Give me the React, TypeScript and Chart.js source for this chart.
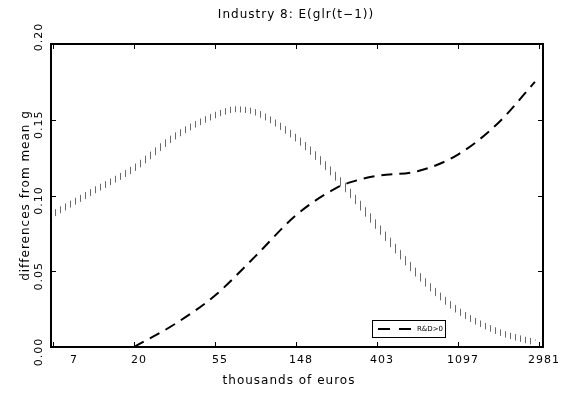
import React, { useEffect, useRef } from "react";
import { Chart, registerables } from "chart.js";

Chart.register(...registerables);

// x values are ln(thousands of euros)
const dottedLnSize = [1.975, 2.5, 3.0, 3.5, 4.0, 4.25, 4.5, 5.0, 5.5, 6.0, 6.5, 7.0, 7.5, 7.95];
const dottedValues = [0.087, 0.103, 0.118, 0.139, 0.153, 0.157, 0.155, 0.138, 0.112, 0.080, 0.048, 0.024, 0.010, 0.003];

const dashedLnSize = [3.0, 3.5, 4.0, 4.5, 5.0, 5.5, 5.75, 6.0, 6.5, 7.0, 7.5, 7.95];
const dashedValues = [0.0, 0.015, 0.034, 0.060, 0.087, 0.105, 0.110, 0.113, 0.116, 0.127, 0.148, 0.175];

const xTickValues = [2, 3, 4, 5, 6, 7, 8];
const xTickLabels = ["7", "20", "55", "148", "403", "1097", "2981"];
const yTickValues = [0, 0.05, 0.1, 0.15, 0.2];
const yTickLabels = ["0.00", "0.05", "0.10", "0.15", "0.20"];

const titleText = "Industry 8: E(glr(t\u22121))";
const xTitle = "thousands of euros";
const yTitle = "differences from mean g";
const legendLabel = "R&D>0";

const FONT = "'DejaVu Sans', 'Liberation Sans', sans-serif";

export default function App() {
  const ref = useRef<HTMLCanvasElement | null>(null);

  useEffect(() => {
    const canvas = ref.current;
    if (!canvas) return;

    const pc = document.createElement("canvas");
    pc.width = 5;
    pc.height = 1;
    const pctx = pc.getContext("2d")!;
    pctx.fillStyle = "#6a6a6a";
    pctx.fillRect(0, 0, 1, 1);
    const ctx0 = canvas.getContext("2d")!;
    const pattern = ctx0.createPattern(pc, "repeat");

    const decor = {
      id: "decor",
      afterDraw(chart: any) {
        const ctx = chart.ctx as CanvasRenderingContext2D;
        const a = chart.chartArea;
        const xs = chart.scales.x;
        const ys = chart.scales.y;
        ctx.save();
        // frame
        ctx.strokeStyle = "#000";
        ctx.lineWidth = 2;
        ctx.strokeRect(a.left, a.top, a.right - a.left, a.bottom - a.top);
        // ticks (inward)
        ctx.lineWidth = 1;
        const tl = 5;
        ctx.beginPath();
        xTickValues.forEach((v) => {
          const px = Math.round(xs.getPixelForValue(v)) + 0.5;
          if (px > a.left + 2 && px < a.right - 2) {
            ctx.moveTo(px, a.bottom);
            ctx.lineTo(px, a.bottom - tl);
            ctx.moveTo(px, a.top);
            ctx.lineTo(px, a.top + tl);
          }
        });
        yTickValues.forEach((v) => {
          const py = Math.round(ys.getPixelForValue(v)) + 0.5;
          if (py > a.top + 2 && py < a.bottom - 2) {
            ctx.moveTo(a.left, py);
            ctx.lineTo(a.left + tl, py);
            ctx.moveTo(a.right, py);
            ctx.lineTo(a.right - tl, py);
          }
        });
        ctx.stroke();

        ctx.fillStyle = "#000";
        (ctx as any).letterSpacing = "1px";
        // x tick labels
        ctx.font = `11px ${FONT}`;
        ctx.textAlign = "center";
        ctx.textBaseline = "middle";
        xTickValues.forEach((v, i) => {
          const px = xs.getPixelForValue(v);
          const cx = Math.max(px + 5, a.left + 23);
          ctx.fillText(xTickLabels[i], cx, 360);
        });
        // y tick labels rotated
        yTickValues.forEach((v, i) => {
          const py = ys.getPixelForValue(v);
          const cy = i === yTickValues.length - 1 ? py - 7 : py + 5;
          ctx.save();
          ctx.translate(39, cy);
          ctx.rotate(-Math.PI / 2);
          ctx.fillText(yTickLabels[i], 0, 0);
          ctx.restore();
        });
        // titles
        ctx.font = `12px ${FONT}`;
        ctx.fillText(titleText, 296, 15);
        ctx.fillText(xTitle, 289, 381);
        ctx.save();
        ctx.translate(26, (a.top + a.bottom) / 2);
        ctx.rotate(-Math.PI / 2);
        ctx.fillText(yTitle, 0, 0);
        ctx.restore();

        // legend
        const lx = 372, ly = 320, lw = 73, lh = 17;
        ctx.fillStyle = "#fff";
        ctx.fillRect(lx, ly, lw, lh);
        ctx.strokeStyle = "#000";
        ctx.lineWidth = 1;
        ctx.strokeRect(lx + 0.5, ly + 0.5, lw, lh);
        ctx.lineWidth = 2;
        ctx.beginPath();
        ctx.moveTo(lx + 6, ly + 9);
        ctx.lineTo(lx + 18, ly + 9);
        ctx.moveTo(lx + 27, ly + 9);
        ctx.lineTo(lx + 39, ly + 9);
        ctx.stroke();
        ctx.fillStyle = "#000";
        (ctx as any).letterSpacing = "0px";
        ctx.font = `7px ${FONT}`;
        ctx.textAlign = "left";
        ctx.fillText(legendLabel, lx + 45, ly + 9);
        ctx.restore();
      },
    };

    const chart = new Chart(canvas, {
      type: "line",
      data: {
        datasets: [
          {
            label: "all",
            data: dottedLnSize.map((x, i) => ({ x, y: dottedValues[i] })),
            borderColor: pattern as any,
            borderWidth: 6,
            pointRadius: 0,
            cubicInterpolationMode: "monotone",
            fill: false,
          },
          {
            label: legendLabel,
            data: dashedLnSize.map((x, i) => ({ x, y: dashedValues[i] })),
            borderColor: "#000",
            borderWidth: 2,
            borderDash: [11, 7],
            pointRadius: 0,
            cubicInterpolationMode: "monotone",
            fill: false,
          },
        ],
      },
      options: {
        animation: false,
        responsive: false,
        devicePixelRatio: 1,
        layout: { padding: { left: 51, top: 44, right: 27, bottom: 47 } },
        plugins: { legend: { display: false }, tooltip: { enabled: false } },
        scales: {
          x: { type: "linear", min: 1.975, max: 8.05, display: false },
          y: { type: "linear", min: 0, max: 0.2, display: false },
        },
      },
      plugins: [decor],
    });
    return () => chart.destroy();
  }, []);

  return (
    <div style={{ position: "fixed", left: 0, top: 0, width: 570, height: 394, background: "#fff" }}>
      <canvas ref={ref} width={570} height={394} style={{ width: 570, height: 394 }} />
    </div>
  );
}
